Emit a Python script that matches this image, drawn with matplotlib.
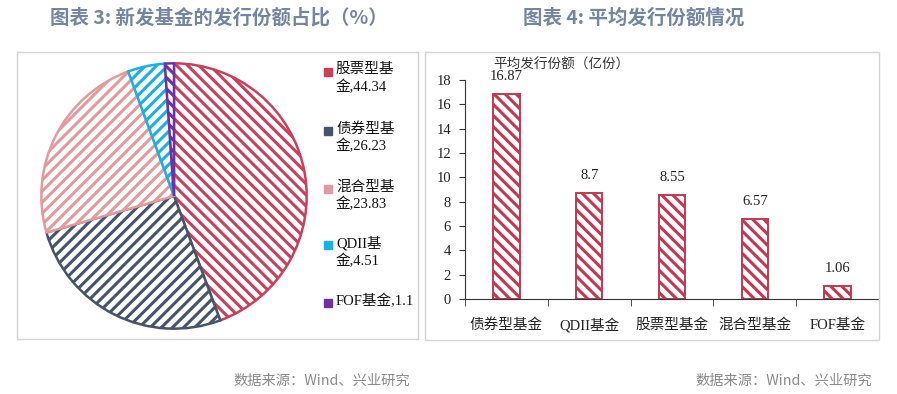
import matplotlib
matplotlib.use("Agg")
import matplotlib.pyplot as plt
from matplotlib.patches import Rectangle

plt.rcParams['font.family'] = ['Liberation Serif', 'Noto Sans CJK SC', 'DejaVu Sans']
plt.rcParams['hatch.linewidth'] = 2.2

# ---------------- data ----------------
pie_labels = ["股票型基金", "债券型基金", "混合型基金", "QDII基金", "FOF基金"]
pie_values = [44.34, 26.23, 23.83, 4.51, 1.1]
legend_texts = ["股票型基\n金,44.34", "债券型基\n金,26.23", "混合型基\n金,23.83", "QDII基\n金,4.51", "FOF基金,1.1"]
pie_colors = ["#c8405a", "#44546a", "#e29a9c", "#1ab0e6", "#7030a0"]
pie_hatches = ["\\\\\\", "///", "///", "///", "\\\\\\"]

bar_categories = ["债券型基金", "QDII基金", "股票型基金", "混合型基金", "FOF基金"]
bar_values = [16.87, 8.7, 8.55, 6.57, 1.06]
bar_value_labels = ["16.87", "8.7", "8.55", "6.57", "1.06"]
y_ticks = [0, 2, 4, 6, 8, 10, 12, 14, 16, 18]
bar_color = "#c4384f"

W, H = 897, 394
fig = plt.figure(figsize=(W / 100, H / 100), dpi=100)

def fx(px):
    return px / W

def fy(py):
    return 1 - py / H

# frames
for (x0, y0, x1, y1) in [(17, 52, 418, 339), (425, 52, 879, 340)]:
    fig.patches.append(Rectangle((fx(x0), fy(y1)), fx(x1) - fx(x0), fy(y0) - fy(y1),
                                 transform=fig.transFigure, fill=False,
                                 edgecolor="#d4d4d4", linewidth=1.0))

title_kw = dict(family=['Noto Sans CJK SC', 'DejaVu Sans'], fontsize=14, weight='bold',
                color="#7485a0", va='center', ha='left')
fig.text(fx(50), fy(18), "图表 3: 新发基金的发行份额占比（%）", **title_kw)
fig.text(fx(523), fy(18), "图表 4: 平均发行份额情况", **title_kw)

src_kw = dict(family=['Noto Sans CJK SC', 'DejaVu Sans'], fontsize=10.3, color="#8a8a8a",
              va='center', ha='left')
fig.text(fx(233), fy(381), "数据来源：Wind、兴业研究", **src_kw)
fig.text(fx(695), fy(381), "数据来源：Wind、兴业研究", **src_kw)

# ---------------- pie ----------------
cx, cy, r = 174, 196, 134
axp = fig.add_axes([fx(cx - r), fy(cy + r), fx(2 * r), fy(cy - r) - fy(cy + r)])
wedges, _ = axp.pie(pie_values, startangle=90, counterclock=False, radius=1,
                    wedgeprops=dict(linewidth=1.8))
for w, c, h in zip(wedges, pie_colors, pie_hatches):
    w.set_facecolor("white")
    w.set_edgecolor(c)
    w.set_hatch(h)
axp.set_xlim(-1.01, 1.01)
axp.set_ylim(-1.01, 1.01)
axp.set_aspect('equal')
axp.axis('off')

# legend
leg_y = [72, 131, 189, 245, 303]
for t, c, yy in zip(legend_texts, pie_colors, leg_y):
    sq = 8
    fig.patches.append(Rectangle((fx(324), fy(yy + sq / 2)), fx(sq), fy(yy - sq / 2) - fy(yy + sq / 2),
                                 transform=fig.transFigure, facecolor=c, edgecolor=c))
    fig.text(fx(336), fy(yy - 9), t, fontsize=10.5, va='top', ha='left', color="#111111",
             linespacing=1.3)

# ---------------- bars ----------------
ax = fig.add_axes([fx(465), fy(299), fx(879) - fx(465), fy(80) - fy(299)])
x = list(range(len(bar_categories)))
bars = ax.bar(x, bar_values, width=0.32, facecolor="white", edgecolor=bar_color,
              hatch="\\\\\\", linewidth=1.4)
for b, lab in zip(bars, bar_value_labels):
    ax.annotate(lab, (b.get_x() + b.get_width() / 2, b.get_height()),
                xytext=(0, 8), textcoords='offset points', ha='center', va='bottom',
                fontsize=10.5, color="#222222")
ax.set_xlim(-0.5, len(bar_categories) - 0.5)
ax.set_ylim(0, 18)
ax.set_yticks(y_ticks)
ax.set_yticklabels([str(v) for v in y_ticks], fontsize=10.5, color="#222222")
ax.set_xticks(x)
ax.set_xticklabels(bar_categories, fontsize=10.5, color="#222222")
ax.tick_params(axis='x', length=0, pad=14)
ax.set_xticks([i - 0.5 for i in range(len(bar_categories) + 1)], minor=True)
ax.tick_params(axis='x', which='minor', length=5, direction='out', color="#333333")
ax.tick_params(axis='y', length=4, direction='out', color="#333333", pad=6)
for s in ['top', 'right']:
    ax.spines[s].set_visible(False)
ax.spines['left'].set_color("#333333")
ax.spines['bottom'].set_color("#333333")
ax.text(0.068, 1.07, "平均发行份额（亿份）", transform=ax.transAxes, fontsize=9.8,
        ha='left', va='center', color="#333333")

fig.savefig("out.png", dpi=100)
